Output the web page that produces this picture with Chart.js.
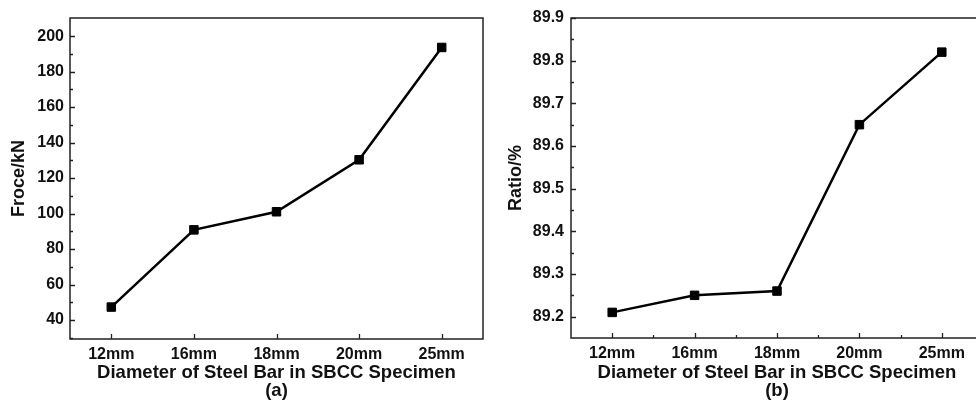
<!DOCTYPE html>
<html>
<head>
<meta charset="utf-8">
<script src="https://cdn.jsdelivr.net/npm/chart.js@4/dist/chart.umd.min.js"></script>
<style>
  html, body { margin: 0; padding: 0; background: #fff; overflow: hidden; }
  body { width: 976px; height: 401px; position: relative; }
  canvas { position: absolute; top: 0; }
  #chart-a { left: 0; }
  #chart-b { left: 490px; }
</style>
</head>
<body>
<canvas id="chart-a" width="490" height="401"></canvas>
<canvas id="chart-b" width="500" height="401"></canvas>
<script>
const diameters = ['12mm', '16mm', '18mm', '20mm', '25mm'];
const forceKN = [47.3, 90.8, 101, 130.3, 193.6];
const ratioPct = [89.21, 89.25, 89.26, 89.65, 89.82];

const forceTicks = [40, 60, 80, 100, 120, 140, 160, 180, 200];
const forceMinor = [30, 50, 70, 90, 110, 130, 150, 170, 190];
const ratioTicks = [89.2, 89.3, 89.4, 89.5, 89.6, 89.7, 89.8, 89.9];
const ratioMinor = [89.25, 89.35, 89.45, 89.55, 89.65, 89.75, 89.85];
const catMinor = [0.5, 1.5, 2.5, 3.5];

const FONT = 'Arial, "Liberation Sans", sans-serif';
const INK = '#111';

// frame box + inward tick marks (Origin style)
const frameTicks = {
  id: 'frameTicks',
  afterDraw(chart, args, opts) {
    const { ctx, chartArea: a, scales: { x, y } } = chart;
    ctx.save();
    ctx.strokeStyle = '#222';
    ctx.lineWidth = 1.5;
    ctx.strokeRect(a.left, a.top, a.right - a.left, a.bottom - a.top);
    ctx.lineWidth = 1.3;
    ctx.beginPath();
    y.ticks.forEach(t => {
      const py = Math.round(y.getPixelForValue(t.value)) + 0.5;
      ctx.moveTo(a.left, py); ctx.lineTo(a.left + 5, py);
    });
    (opts.yMinor || []).forEach(v => {
      const py = Math.round(y.getPixelForValue(v)) + 0.5;
      ctx.moveTo(a.left, py); ctx.lineTo(a.left + 3, py);
    });
    x.ticks.forEach((t, i) => {
      const px = Math.round(x.getPixelForValue(i)) + 0.5;
      ctx.moveTo(px, a.bottom); ctx.lineTo(px, a.bottom - 5);
    });
    (opts.xMinor || []).forEach(v => {
      const px = Math.round(x.getPixelForValue(v)) + 0.5;
      ctx.moveTo(px, a.bottom); ctx.lineTo(px, a.bottom - 3);
    });
    ctx.stroke();
    ctx.restore();
  }
};

function makeChart(id, values, yTicks, opts) {
  return new Chart(document.getElementById(id), {
    type: 'line',
    data: {
      labels: diameters,
      datasets: [{
        data: values,
        borderColor: '#000',
        borderWidth: 2.5,
        backgroundColor: '#000',
        pointStyle: 'rect',
        pointRadius: 6,
        pointBorderWidth: 1,
        tension: 0
      }]
    },
    options: {
      responsive: false,
      animation: false,
      layout: { padding: { top: 18, right: opts.padRight, bottom: 0, left: 0 } },
      plugins: {
        legend: { display: false },
        tooltip: { enabled: false },
        frameTicks: { yMinor: opts.yMinor, xMinor: opts.xMinor }
      },
      scales: {
        x: {
          offset: true,
          grid: { display: false, drawTicks: false },
          border: { display: false },
          ticks: { color: INK, padding: 6, font: { family: FONT, size: 16, weight: 'bold' } },
          title: {
            display: true,
            text: ['Diameter of Steel Bar in SBCC Specimen', opts.tag],
            color: INK,
            padding: { top: 0, bottom: 1 },
            font: { family: FONT, size: 18.5, weight: 'bold', lineHeight: 0.98 }
          },
          afterFit: scale => { scale.height = opts.xHeight; }
        },
        y: {
          min: opts.min,
          max: opts.max,
          grid: { display: false, drawTicks: false },
          border: { display: false },
          afterBuildTicks: scale => { scale.ticks = yTicks.map(v => ({ value: v })); },
          ticks: {
            color: INK,
            padding: opts.yPad,
            font: { family: FONT, size: 16, weight: 'bold' },
            callback: v => opts.fmt(v)
          },
          title: {
            display: true,
            text: opts.yTitle,
            color: INK,
            padding: { top: opts.yTitlePad, bottom: 0 },
            font: { family: FONT, size: 18, weight: 'bold', lineHeight: 1.0 }
          },
          afterFit: scale => { scale.width = opts.yWidth; }
        }
      }
    },
    plugins: [frameTicks]
  });
}

makeChart('chart-a', forceKN, forceTicks, {
  tag: '(a)', yTitle: 'Froce/kN', min: 29.3, max: 210.2,
  yMinor: forceMinor, xMinor: [],
  padRight: 6, xHeight: 62, yWidth: 70, yPad: 6, yTitlePad: 10,
  fmt: v => String(v)
});

makeChart('chart-b', ratioPct, ratioTicks, {
  tag: '(b)', yTitle: 'Ratio/%', min: 89.15, max: 89.9,
  yMinor: ratioMinor, xMinor: catMinor,
  padRight: 3, xHeight: 63, yWidth: 81, yPad: 7, yTitlePad: 17,
  fmt: v => v.toFixed(1)
});
</script>
</body>
</html>
